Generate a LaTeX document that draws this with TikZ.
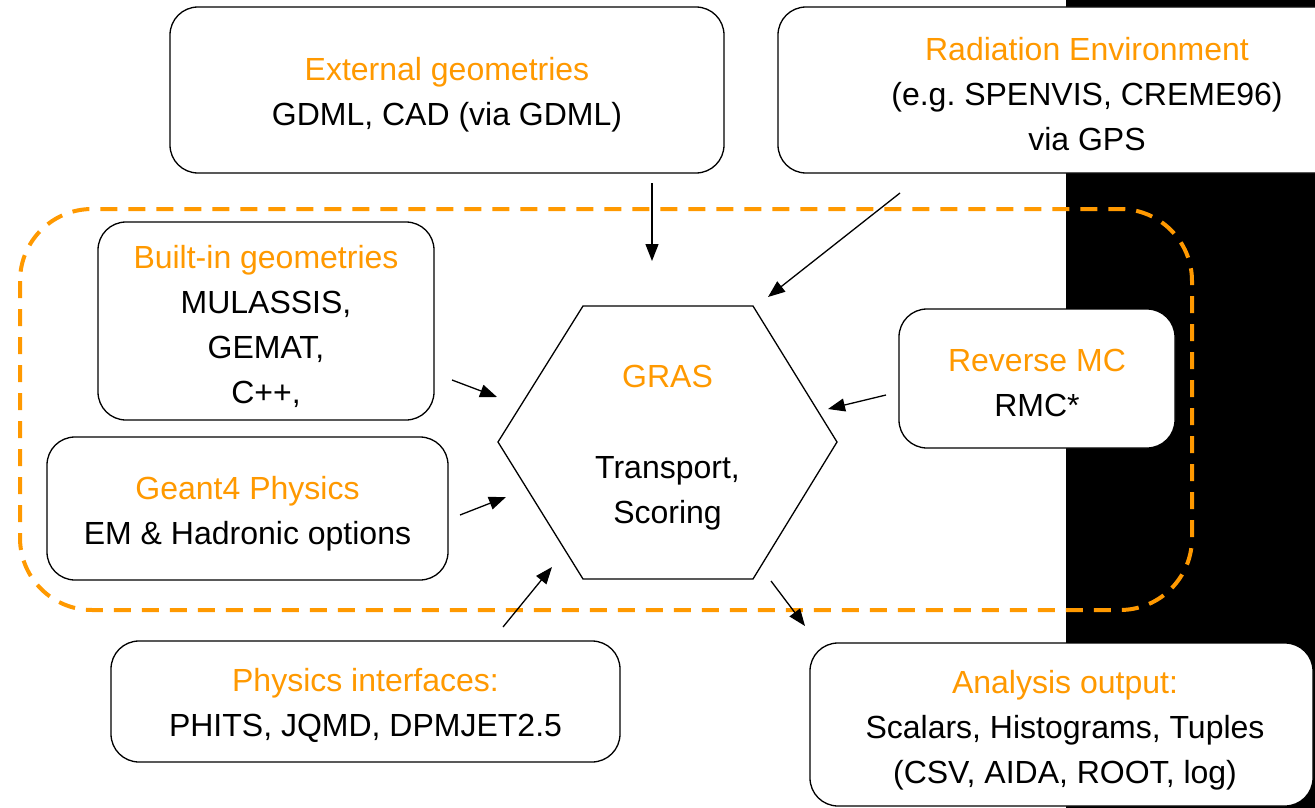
\documentclass[tikz,border=0pt]{standalone}
\usepackage{fontspec}
\setmainfont{Liberation Sans}
\usetikzlibrary{arrows.meta}
\definecolor{gorange}{HTML}{FF9900}
\tikzset{
  box/.style={draw=black, line width=1.3pt, fill=white, rounded corners=28pt, inner sep=0pt},
  txt/.style={align=center, inner sep=0pt},
  conn/.style={line width=1.3pt, -{Triangle[length=17pt,width=13pt]}}
}
\newcommand{\ot}[1]{\textcolor{gorange}{#1}}
\frenchspacing
\begin{document}
\begin{tikzpicture}[x=1pt,y=-1pt,font=\fontsize{32}{45}\selectfont]
\useasboundingbox (0,0) rectangle (1315,808);
\fill[white] (0,0) rectangle (1315,808);
\fill[black] (1066,0) rectangle (1315,808);
% dashed region
\draw[gorange, line width=4pt, dash pattern=on 17pt off 11pt, rounded corners=72pt] (20,209) rectangle (1192,610);
% boxes
\node[box, minimum width=554pt, minimum height=166pt] (ext) at (447,90) {};
\node[txt] (extT) at (447,95) {\ot{External geometries}\\GDML, CAD (via GDML)};
\node[box, minimum width=618pt, minimum height=166pt] (rad) at (1087,90) {};
\node[txt] (radT) at (1087,94) {\ot{Radiation Environment}\\(e.g.\ SPENVIS, CREME96)\\via GPS};
\node[box, minimum width=336pt, minimum height=198pt] (bui) at (266,321) {};
\node[txt] (buiT) at (266,326) {\ot{Built-in geometries}\\MULASSIS,\\GEMAT,\\C++,};
\node[box, minimum width=401pt, minimum height=143pt] (g4) at (247.5,508.5) {};
\node[txt] (g4T) at (247.5,513.5) {\ot{Geant4 Physics}\\EM \& Hadronic options};
\node[box, minimum width=276pt, minimum height=139pt] (rmc) at (1037,378.5) {};
\node[txt] (rmcT) at (1037,382.5) {\ot{Reverse MC}\\RMC*};
\node[box, minimum width=509pt, minimum height=121pt] (phy) at (365.5,701.5) {};
\node[txt] (phyT) at (365.5,705.5) {\ot{Physics interfaces:}\\PHITS, JQMD, DPMJET2.5};
\node[box, minimum width=503pt, minimum height=163pt] (ana) at (1061.5,724.5) {};
\node[txt] (anaT) at (1065,730) {\ot{Analysis output:}\\Scalars, Histograms, Tuples\\(CSV, AIDA, ROOT, log)};
% hexagon
\draw[line width=1.3pt, fill=white] (498,442) -- (583,306) -- (753,306) -- (837,442) -- (753,579) -- (583,579) -- cycle;
\node[txt] (gras) at (667.5,448) {\ot{GRAS}\\[46pt]Transport,\\Scoring};
% connector endpoints
\coordinate (a1) at (652,183); \coordinate (b1) at (652,261);
\coordinate (a2) at (900,193); \coordinate (b2) at (768,297);
\coordinate (a3) at (452,380); \coordinate (b3) at (497,397);
\coordinate (a4) at (460,515); \coordinate (b4) at (506,497);
\coordinate (a5) at (503,627); \coordinate (b5) at (552,567);
\coordinate (a6) at (886,395); \coordinate (b6) at (828,409);
\coordinate (a7) at (771,581); \coordinate (b7) at (805,626);
\draw[conn] (a1) -- (b1);
\draw[conn] (a2) -- (b2);
\draw[conn] (a3) -- (b3);
\draw[conn] (a4) -- (b4);
\draw[conn] (a5) -- (b5);
\draw[conn] (a6) -- (b6);
\draw[conn] (a7) -- (b7);
\end{tikzpicture}
\end{document}
